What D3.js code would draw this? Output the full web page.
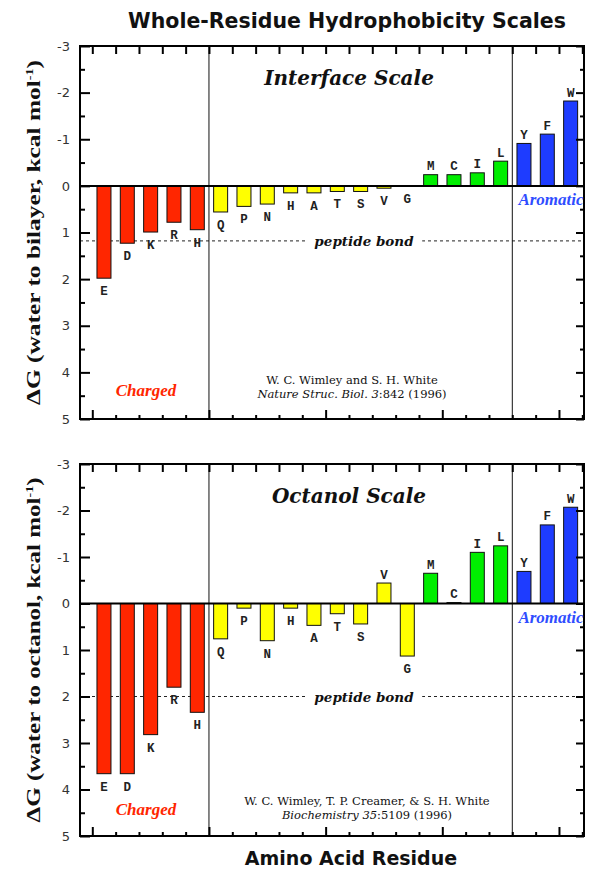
<!DOCTYPE html>
<html>
<head>
<meta charset="utf-8">
<script src="https://cdn.jsdelivr.net/npm/d3@7"></script>
<style>
  body { margin: 0; background: #fff; }
</style>
</head>
<body>
<div id="chart"></div>
<script>
// Whole-residue hydrophobicity scales (Wimley & White)
const width = 594;
const height = 869;

// residues in plotted order (H+ is the charged histidine)
const residues = ['E', 'D', 'K', 'R', 'H+', 'Q', 'P', 'N', 'H', 'A', 'T', 'S', 'V', 'G', 'M', 'C', 'I', 'L', 'Y', 'F', 'W'];
const residueLabels = ['E', 'D', 'K', 'R', 'H', 'Q', 'P', 'N', 'H', 'A', 'T', 'S', 'V', 'G', 'M', 'C', 'I', 'L', 'Y', 'F', 'W'];
const residueGroups = ['charged', 'charged', 'charged', 'charged', 'charged',
  'polar', 'polar', 'polar', 'polar', 'polar', 'polar', 'polar', 'polar', 'polar',
  'apolar', 'apolar', 'apolar', 'apolar',
  'aromatic', 'aromatic', 'aromatic'];

// kcal/mol
const interfaceValues = [1.98, 1.23, 0.99, 0.78, 0.94, 0.56, 0.44, 0.39, 0.15, 0.15, 0.12, 0.12, 0.05, 0.01, -0.24, -0.24, -0.28, -0.53, -0.91, -1.11, -1.82];
const octanolValues = [3.66, 3.66, 2.82, 1.80, 2.34, 0.76, 0.10, 0.80, 0.10, 0.47, 0.22, 0.44, -0.44, 1.13, -0.65, -0.02, -1.10, -1.24, -0.69, -1.69, -2.07];

const peptideBond = [1.18, 2.0];
const yTicks = [-3, -2, -1, 0, 1, 2, 3, 4, 5];
const yMinorTicks = [-2.5, -1.5, -0.5, 0.5, 1.5, 2.5, 3.5, 4.5];

const groupColors = {
  charged: '#ff2600',
  polar: '#ffff00',
  apolar: '#00ee00',
  aromatic: '#1e3cff'
};

const serif = '"DejaVu Serif", serif';
const times = '"Liberation Serif", serif';
const sans = '"DejaVu Sans", sans-serif';

const svg = d3.select('#chart')
  .append('svg')
  .attr('width', width)
  .attr('height', height);

const frameLeft = 80;
const frameRight = 584;

// one band per residue
const x = d3.scaleBand()
  .domain(residues)
  .range([92.3, 582.3])
  .padding(0);

const barWidth = x.bandwidth() * 0.6;
const bandEdges = d3.range(residues.length + 1).map(i => 92.3 + i * x.step());

// title
svg.append('text')
  .attr('x', 347)
  .attr('y', 28)
  .attr('text-anchor', 'middle')
  .attr('font-family', sans)
  .attr('font-size', '20.5px')
  .attr('font-weight', 'bold')
  .attr('fill', '#111')
  .text('Whole-Residue Hydrophobicity Scales');

// x axis title
svg.append('text')
  .attr('x', 351)
  .attr('y', 865)
  .attr('text-anchor', 'middle')
  .attr('font-family', sans)
  .attr('font-size', '19px')
  .attr('font-weight', 'bold')
  .attr('fill', '#111')
  .text('Amino Acid Residue');

function drawPanel(p) {
  const y = d3.scaleLinear().domain([-3, 5]).range([p.top, p.bottom]);
  const g = svg.append('g');

  // peptide bond reference line
  g.append('line')
    .attr('x1', frameLeft)
    .attr('x2', frameRight)
    .attr('y1', y(p.peptide))
    .attr('y2', y(p.peptide))
    .attr('stroke', '#222')
    .attr('stroke-width', 1)
    .attr('stroke-dasharray', '3,3');

  const pb = g.append('text')
    .attr('x', 364)
    .attr('y', y(p.peptide) + 5)
    .attr('text-anchor', 'middle')
    .attr('font-family', serif)
    .attr('font-size', '13.5px')
    .attr('font-weight', 'bold')
    .attr('font-style', 'italic')
    .attr('fill', '#111')
    .text('peptide bond');
  const bb = pb.node().getBBox();
  g.insert('rect', 'text')
    .attr('x', bb.x - 8)
    .attr('y', bb.y)
    .attr('width', bb.width + 16)
    .attr('height', bb.height)
    .attr('fill', '#fff');

  // bars
  const data = residues.map((r, i) => ({ id: r, label: residueLabels[i], group: residueGroups[i], value: p.values[i] }));

  g.selectAll('rect.bar')
    .data(data)
    .enter()
    .append('rect')
    .attr('class', 'bar')
    .attr('x', d => x(d.id) + (x.bandwidth() - barWidth) / 2)
    .attr('y', d => Math.min(y(0), y(d.value)))
    .attr('width', barWidth)
    .attr('height', d => Math.abs(y(d.value) - y(0)))
    .attr('fill', d => groupColors[d.group])
    .attr('stroke', '#111')
    .attr('stroke-width', 1);

  g.selectAll('text.res')
    .data(data)
    .enter()
    .append('text')
    .attr('class', 'res')
    .attr('x', d => x(d.id) + x.bandwidth() / 2)
    .attr('y', d => d.value >= 0 ? y(d.value) + 17 : y(d.value) - 4.5)
    .attr('text-anchor', 'middle')
    .attr('font-family', '"Liberation Mono", monospace')
    .attr('font-size', '12.5px')
    .attr('font-weight', 'bold')
    .attr('fill', '#222')
    .text(d => d.label);

  // group separators
  [5, 18].forEach(i => {
    g.append('line')
      .attr('x1', bandEdges[i])
      .attr('x2', bandEdges[i])
      .attr('y1', p.top)
      .attr('y2', p.bottom)
      .attr('stroke', '#111')
      .attr('stroke-width', 1);
  });

  // zero line
  g.append('line')
    .attr('x1', frameLeft)
    .attr('x2', frameRight)
    .attr('y1', y(0))
    .attr('y2', y(0))
    .attr('stroke', '#000')
    .attr('stroke-width', 2);

  // left axis, ticks pointing inwards
  const left = g.append('g')
    .attr('transform', `translate(${frameLeft},0)`)
    .call(d3.axisLeft(y).tickValues(yTicks).tickSize(-10).tickPadding(10).tickFormat(d3.format('d')));
  left.select('.domain').remove();
  left.selectAll('line').attr('stroke', '#000').attr('stroke-width', 2);
  left.selectAll('text')
    .attr('font-family', sans)
    .attr('font-size', '13px')
    .attr('fill', '#333')
    .text(d => d < 0 ? '-' + Math.abs(d) : d);

  const leftMinor = g.append('g')
    .attr('transform', `translate(${frameLeft},0)`)
    .call(d3.axisLeft(y).tickValues(yMinorTicks).tickSize(-5).tickFormat(''));
  leftMinor.select('.domain').remove();
  leftMinor.selectAll('line').attr('stroke', '#000').attr('stroke-width', 2);

  // right axis
  [[yTicks, -8], [yMinorTicks, -4]].forEach(([vals, size]) => {
    const ax = g.append('g')
      .attr('transform', `translate(${frameRight},0)`)
      .call(d3.axisRight(y).tickValues(vals).tickSize(size).tickFormat(''));
    ax.select('.domain').remove();
    ax.selectAll('line').attr('stroke', '#000').attr('stroke-width', 2);
  });

  // top ticks at band edges
  const topAx = g.append('g')
    .attr('transform', `translate(0,${p.top})`)
    .call(d3.axisTop(d3.scaleIdentity()).tickValues(bandEdges).tickSize(-8).tickFormat(''));
  topAx.select('.domain').remove();
  topAx.selectAll('line').attr('stroke', '#000').attr('stroke-width', 2);

  // bottom ticks, longer every fifth edge
  const botAx = g.append('g')
    .attr('transform', `translate(0,${p.bottom})`)
    .call(d3.axisBottom(d3.scaleIdentity()).tickValues(bandEdges).tickSize(-4).tickFormat(''));
  botAx.select('.domain').remove();
  botAx.selectAll('line')
    .attr('y2', (d, i) => i % 5 === 0 ? -9 : -4)
    .attr('stroke', '#000')
    .attr('stroke-width', 2);

  // frame
  g.append('rect')
    .attr('x', frameLeft)
    .attr('y', p.top)
    .attr('width', frameRight - frameLeft)
    .attr('height', p.bottom - p.top)
    .attr('fill', 'none')
    .attr('stroke', '#000')
    .attr('stroke-width', 2);

  // panel title
  g.append('text')
    .attr('x', 349)
    .attr('y', p.top + 39)
    .attr('text-anchor', 'middle')
    .attr('font-family', serif)
    .attr('font-size', '20px')
    .attr('font-weight', 'bold')
    .attr('font-style', 'italic')
    .attr('fill', '#111')
    .text(p.title);

  // group captions
  g.append('text')
    .attr('x', 146)
    .attr('y', p.chargedY)
    .attr('text-anchor', 'middle')
    .attr('font-family', times)
    .attr('font-size', '17px')
    .attr('font-weight', 'bold')
    .attr('font-style', 'italic')
    .attr('fill', '#ff2600')
    .text('Charged');

  g.append('text')
    .attr('x', 551)
    .attr('y', y(0) + 19)
    .attr('text-anchor', 'middle')
    .attr('font-family', times)
    .attr('font-size', '17px')
    .attr('font-weight', 'bold')
    .attr('font-style', 'italic')
    .attr('fill', '#2f4dff')
    .text('Aromatic');

  // reference
  g.append('text')
    .attr('x', p.refX)
    .attr('y', p.refY)
    .attr('text-anchor', 'middle')
    .attr('font-family', serif)
    .attr('font-size', '11.5px')
    .attr('fill', '#111')
    .text(p.authors);

  const cite = g.append('text')
    .attr('x', p.refX)
    .attr('y', p.refY + 14)
    .attr('text-anchor', 'middle')
    .attr('font-family', serif)
    .attr('font-size', '11.5px')
    .attr('fill', '#111');
  cite.append('tspan').attr('font-style', 'italic').text(p.journal);
  cite.append('tspan').text(p.pages);

  // y axis title
  const yt = g.append('text')
    .attr('transform', `translate(40,${(p.top + p.bottom) / 2}) rotate(-90)`)
    .attr('text-anchor', 'middle')
    .attr('font-family', times)
    .attr('font-size', '18px')
    .attr('font-weight', 'bold')
    .attr('textLength', 345)
    .attr('lengthAdjust', 'spacingAndGlyphs')
    .attr('fill', '#111');
  yt.append('tspan').text(p.yLabel);
  yt.append('tspan').attr('font-size', '10px').attr('dy', -7).text('-1');
  yt.append('tspan').attr('dy', 7).text(')');
}

drawPanel({
  top: 46, bottom: 419,
  values: interfaceValues,
  peptide: peptideBond[0],
  title: 'Interface Scale',
  chargedY: 396,
  refX: 352, refY: 384,
  authors: 'W. C. Wimley and S. H. White',
  journal: 'Nature Struc. Biol. 3',
  pages: ':842 (1996)',
  yLabel: '\u0394G (water to bilayer, kcal mol'
});

drawPanel({
  top: 464, bottom: 836,
  values: octanolValues,
  peptide: peptideBond[1],
  title: 'Octanol Scale',
  chargedY: 815,
  refX: 367, refY: 805,
  authors: 'W. C. Wimley, T. P. Creamer, & S. H. White',
  journal: 'Biochemistry 35',
  pages: ':5109 (1996)',
  yLabel: '\u0394G (water to octanol, kcal mol'
});
</script>
</body>
</html>
